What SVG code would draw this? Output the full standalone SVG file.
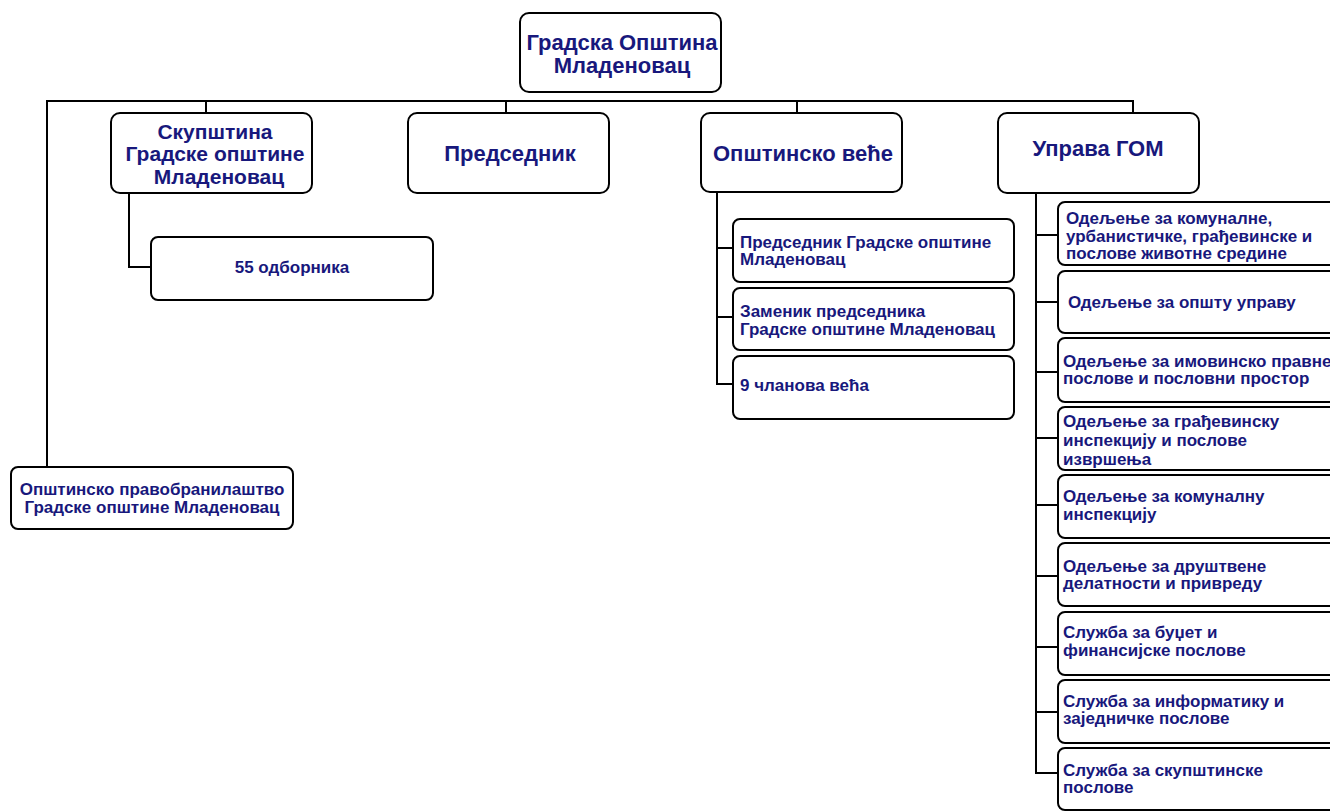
<svg xmlns="http://www.w3.org/2000/svg" width="1330" height="812" viewBox="0 0 1330 812">
<style>
.box{fill:#fff;stroke:#000;stroke-width:2}
.ln{fill:none;stroke:#000;stroke-width:2}
text{font-family:"Liberation Sans",Arial,sans-serif;font-weight:bold;fill:#18187c}
.t1{font-size:22px;text-anchor:middle}
.t2{font-size:22px;text-anchor:middle}
.t2s{font-size:21px;text-anchor:middle}
.t3{font-size:17px}
.t4{font-size:17px}
.c{text-anchor:middle}
</style>
<rect width="1330" height="812" fill="#fff"/>
<g id="connectors">
<path class="ln" d="M47,467 V101 H1133 V113"/>
<path class="ln" d="M206,101 V113 M506,101 V113 M797,101 V113"/>
<path class="ln" d="M129,193 V267 H151"/>
<path class="ln" d="M717,192 V384 H733 M717,248 H733 M717,317 H733"/>
<path class="ln" d="M1036,193 V773 H1058 M1036,235 H1058 M1036,302 H1058 M1036,372 H1058 M1036,438 H1058 M1036,505 H1058 M1036,576 H1058 M1036,647 H1058 M1036,712 H1058"/>
</g>
<g id="root">
<rect class="box" x="520" y="13" width="201" height="79" rx="9"/>
<text class="t1" x="622" y="50">Градска Општина</text>
<text class="t1" x="622" y="73">Младеновац</text>
</g>
<g id="skupstina">
<rect class="box" x="111" y="113" width="201" height="80" rx="9"/>
<text class="t2s" x="215" y="139">Скупштина</text>
<text class="t2s" x="215" y="161">Градске општине</text>
<text class="t2s" x="219" y="184">Младеновац</text>
</g>
<g id="odbornika">
<rect class="box" x="151" y="237" width="282" height="63" rx="7"/>
<text class="t3 c" x="292" y="273">55 одборника</text>
</g>
<g id="predsednik">
<rect class="box" x="408" y="113" width="201" height="80" rx="9"/>
<text class="t2" x="510" y="161">Председник</text>
</g>
<g id="vece">
<rect class="box" x="701" y="113" width="201" height="79" rx="9"/>
<text class="t2" x="803" y="161">Општинско веће</text>
</g>
<g id="vece1">
<rect class="box" x="733" y="219" width="281" height="63" rx="7"/>
<text class="t3" x="740" y="248">Председник Градске општине</text>
<text class="t3" x="740" y="265">Младеновац</text>
</g>
<g id="vece2">
<rect class="box" x="733" y="288" width="281" height="62" rx="7"/>
<text class="t3" x="740" y="317">Заменик председника</text>
<text class="t3" x="740" y="335">Градске општине Младеновац</text>
</g>
<g id="vece3">
<rect class="box" x="733" y="356" width="281" height="63" rx="7"/>
<text class="t3" x="740" y="391">9 чланова већа</text>
</g>
<g id="uprava">
<rect class="box" x="998" y="113" width="201" height="80" rx="9"/>
<text class="t2" x="1098" y="156">Управа ГОМ</text>
</g>
<g id="u1">
<rect class="box" x="1058" y="202" width="290" height="63" rx="7"/>
<text class="t4" x="1066" y="224">Одељење за комуналне,</text>
<text class="t4" x="1066" y="242">урбанистичке, грађевинске и</text>
<text class="t4" x="1066" y="259">послове животне средине</text>
</g>
<g id="u2">
<rect class="box" x="1058" y="271" width="290" height="62" rx="7"/>
<text class="t4" x="1068" y="308">Одељење за општу управу</text>
</g>
<g id="u3">
<rect class="box" x="1058" y="338" width="290" height="64" rx="7"/>
<text class="t4" x="1063" y="367">Одељење за имовинско правне</text>
<text class="t4" x="1063" y="384">послове и пословни простор</text>
</g>
<g id="u4">
<rect class="box" x="1058" y="407" width="290" height="63" rx="7"/>
<text class="t4" x="1063" y="427">Одељење за грађевинску</text>
<text class="t4" x="1063" y="446">инспекцију и послове</text>
<text class="t4" x="1063" y="465">извршења</text>
</g>
<g id="u5">
<rect class="box" x="1058" y="475" width="290" height="63" rx="7"/>
<text class="t4" x="1063" y="502">Одељење за комуналну</text>
<text class="t4" x="1063" y="520">инспекцију</text>
</g>
<g id="u6">
<rect class="box" x="1058" y="543" width="290" height="63" rx="7"/>
<text class="t4" x="1063" y="572">Одељење за друштвене</text>
<text class="t4" x="1063" y="589">делатности и привреду</text>
</g>
<g id="u7">
<rect class="box" x="1058" y="612" width="290" height="63" rx="7"/>
<text class="t4" x="1063" y="638">Служба за буџет и</text>
<text class="t4" x="1063" y="656">финансијске послове</text>
</g>
<g id="u8">
<rect class="box" x="1058" y="680" width="290" height="63" rx="7"/>
<text class="t4" x="1063" y="707">Служба за информатику и</text>
<text class="t4" x="1063" y="724">заједничке послове</text>
</g>
<g id="u9">
<rect class="box" x="1058" y="748" width="290" height="62" rx="7"/>
<text class="t4" x="1063" y="776">Служба за скупштинске</text>
<text class="t4" x="1063" y="793">послове</text>
</g>
<g id="pravobranilastvo">
<rect class="box" x="11" y="467" width="282" height="62" rx="7"/>
<text class="t4 c" x="152" y="495">Општинско правобранилаштво</text>
<text class="t4 c" x="152" y="513">Градске општине Младеновац</text>
</g>
</svg>
